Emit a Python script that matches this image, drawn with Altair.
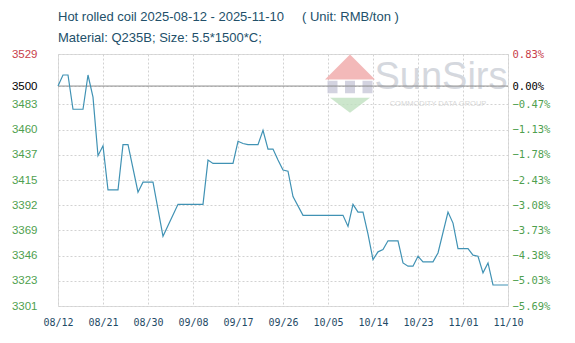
import altair as alt
import pandas as pd

# ---- data ----
dates = [
    "2025-08-12", "2025-08-13", "2025-08-14", "2025-08-15", "2025-08-17", "2025-08-18",
    "2025-08-19", "2025-08-20", "2025-08-21", "2025-08-22", "2025-08-24", "2025-08-25",
    "2025-08-26", "2025-08-28", "2025-08-29", "2025-08-31", "2025-09-02", "2025-09-05",
    "2025-09-10", "2025-09-11", "2025-09-12", "2025-09-16", "2025-09-17", "2025-09-18",
    "2025-09-19", "2025-09-21", "2025-09-22", "2025-09-23", "2025-09-24", "2025-09-25",
    "2025-09-26", "2025-09-27", "2025-09-28", "2025-09-30", "2025-10-08", "2025-10-09",
    "2025-10-10", "2025-10-11", "2025-10-12", "2025-10-13", "2025-10-14", "2025-10-15",
    "2025-10-16", "2025-10-17", "2025-10-19", "2025-10-20", "2025-10-21", "2025-10-22",
    "2025-10-23", "2025-10-24", "2025-10-26", "2025-10-27", "2025-10-29", "2025-10-30",
    "2025-10-31", "2025-11-02", "2025-11-03", "2025-11-04", "2025-11-05", "2025-11-06",
    "2025-11-07", "2025-11-10",
]
prices = [
    3500, 3510, 3510, 3479, 3479, 3510,
    3490, 3437, 3446, 3406, 3406, 3447,
    3447, 3404, 3413, 3413, 3364, 3393,
    3393, 3433, 3430, 3430, 3450, 3448,
    3447, 3447, 3460, 3443, 3443, 3433,
    3424, 3423, 3400, 3383, 3383, 3373,
    3393, 3386, 3386, 3366, 3343, 3350,
    3352, 3360, 3360, 3340, 3337, 3337,
    3346, 3341, 3341, 3349, 3386, 3376,
    3353, 3353, 3347, 3346, 3331, 3340,
    3320, 3320,
]
base_price = [3500]
y_ticks = [3301, 3323.8, 3346.6, 3369.4, 3392.2, 3415, 3437.8, 3460.6, 3483.4, 3500, 3529]
y_domain = [3301, 3529]
x_ticks = ["2025-08-12", "2025-08-21", "2025-08-30", "2025-09-08", "2025-09-17", "2025-09-26",
           "2025-10-05", "2025-10-14", "2025-10-23", "2025-11-01", "2025-11-10"]
x_domain = ["2025-08-12", "2025-11-10"]
title_lines = [
    "Hot rolled coil 2025-08-12 - 2025-11-10\u00a0\u00a0\u00a0\u00a0\u00a0( Unit: RMB/ton )",
    "Material: Q235B; Size: 5.5*1500*C;",
]


def dt(s):
    y, m, d = (int(v) for v in s.split("-"))
    return alt.DateTime(year=y, month=m, date=d, utc=True)


df = pd.DataFrame({"date": dates, "price": prices})
base_df = pd.DataFrame({"base": base_price})

RED = "#c8404a"
GREEN = "#4f9f4f"
label_color = {
    "condition": [
        {"test": "datum.value > 3500.5", "value": RED},
        {"test": "datum.value > 3499.5", "value": "#000000"},
    ],
    "value": GREEN,
}

x_enc = alt.X(
    "date:T",
    scale=alt.Scale(type="utc", domain=[dt(s) for s in x_domain]),
    axis=alt.Axis(
        values=[dt(s) for s in x_ticks],
        labelExpr="utcFormat(datum.value, '%m/%d')",
        grid=True, gridColor="#d2d2d2", gridDash=[2, 2],
        domain=False, ticks=False, labelFlush=False, labelOverlap=False,
        labelFont="DejaVu Sans Mono", labelFontSize=10, labelColor="#1f4a66",
        labelPadding=11, title=None,
    ),
)

y_scale = alt.Scale(domain=y_domain, nice=False, zero=False)

line = alt.Chart(df).mark_line(color="#4092b4", strokeWidth=1.2).encode(
    x=x_enc,
    y=alt.Y(
        "price:Q", scale=y_scale,
        axis=alt.Axis(
            values=y_ticks, labelExpr="floor(datum.value)", orient="left",
            grid=True, gridColor="#d2d2d2", gridDash=[2, 2],
            domain=False, ticks=False, labelFlush=False, labelOverlap=False,
            labelFont="Liberation Sans", labelFontSize=11.5, labelPadding=21,
            labelColor=label_color, title=None,
        ),
    ),
)

base_rule = alt.Chart(base_df).mark_rule(color="#8c8c8c", strokeWidth=1).encode(
    y=alt.Y("base:Q", scale=y_scale, axis=None)
)

right_axis = alt.Chart(df).mark_line(opacity=0).encode(
    x=alt.X("date:T"),
    y=alt.Y(
        "price:Q", scale=y_scale,
        axis=alt.Axis(
            values=y_ticks, orient="right",
            labelExpr="format((datum.value - 3500) / 3500 * 100, '.2f') + '%'",
            grid=False, domain=False, ticks=False, labelFlush=False, labelOverlap=False,
            labelFont="DejaVu Sans Mono", labelFontSize=10.5, labelPadding=4,
            labelColor=label_color, title=None,
        ),
    ),
)

# faint watermark
wm_text = alt.Chart(pd.DataFrame({"t": ["SunSirs"]})).mark_text(
    font="Liberation Sans", fontSize=38, color="#d5d8de", align="center", baseline="alphabetic"
).encode(text="t:N", x=alt.value(383), y=alt.value(35))
wm_sub = alt.Chart(pd.DataFrame({"t": ["COMMODITY DATA GROUP"]})).mark_text(
    font="Liberation Sans", fontSize=7.5, color="#d8d8d8", align="center"
).encode(text="t:N", x=alt.value(380), y=alt.value(50))
wm_red = alt.Chart(pd.DataFrame({"t": [1]})).mark_point(
    shape="M-1,0.5L0,-0.5L1,0.5Z", filled=True, color="#f0a8a8", opacity=0.8, size=2500
).encode(x=alt.value(292), y=alt.value(13))
wm_green = alt.Chart(pd.DataFrame({"t": [1]})).mark_point(
    shape="M-0.8,-0.25L0,0.35L0.8,-0.25Z", filled=True, color="#bfe0bf", opacity=0.8, size=2500
).encode(x=alt.value(292), y=alt.value(50))
wm_gray = alt.Chart(pd.DataFrame({"t": [1]})).mark_point(
    shape="M-0.9,-0.25L-0.5,-0.25L-0.5,0.25L-0.9,0.25Z M-0.2,-0.25L0.2,-0.25L0.2,0.25L-0.2,0.25Z M0.5,-0.25L0.9,-0.25L0.9,0.25L0.5,0.25Z",
    filled=True, color="#c8c8d8", opacity=0.8, size=2500
).encode(x=alt.value(292), y=alt.value(33))

chart = alt.layer(
    wm_red, wm_gray, wm_green, wm_text, wm_sub, base_rule, line, right_axis
).resolve_scale(y="independent").properties(
    width=450, height=252,
    autosize=alt.AutoSizeParams(type="none"),
    padding={"left": 58, "top": 54, "right": 67, "bottom": 37},
    title=alt.TitleParams(
        text=title_lines, anchor="start", frame="group", font="Liberation Sans",
        fontSize=13, fontWeight="normal", color="#22506a", lineHeight=21, offset=3,
    ),
).configure_view(stroke="#a0a0a0", strokeWidth=1).configure(background="white")

chart.save("out.html", embed_options={"renderer": "svg", "actions": False})
